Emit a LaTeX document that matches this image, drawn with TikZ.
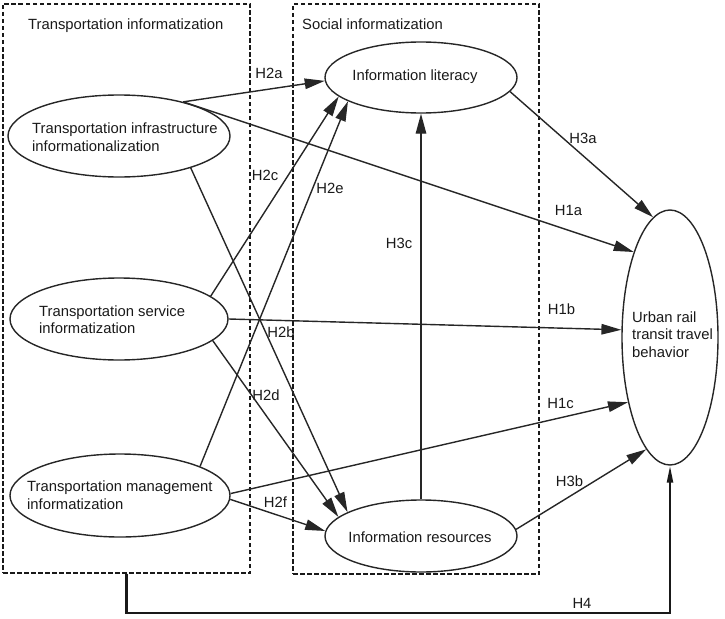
\documentclass[tikz,border=0pt]{standalone}
\usepackage{fontspec}
\setmainfont{Liberation Sans}
\usetikzlibrary{shapes.geometric,arrows.meta}
\tikzset{
  ell/.style={ellipse, draw=black!85, line width=1.4pt, inner sep=0pt},
  txt/.style={inner sep=0pt, font=\fontsize{14.8}{17.5}\selectfont, align=left, text=black!90},
  hyp/.style={inner sep=0pt, font=\fontsize{14.8}{17.5}\selectfont, text=black!90},
  arr/.style={-{Triangle[length=20pt,width=10.5pt]}, line width=1.4pt, draw=black!85},
  h4arr/.style={-{Triangle[length=17pt,width=6pt]}, line width=2.2pt, draw=black!90},
  dashbox/.style={draw=black!90, dash pattern=on 4.5pt off 2.5pt, line width=1.2pt, inner sep=0pt},
}
\begin{document}
\begin{tikzpicture}[x=1pt,y=-1pt]
\useasboundingbox (0,0) rectangle (725,618);
% group boxes
\node[dashbox, minimum width=247pt, minimum height=569pt] (lbox) at (126.5,288.5) {};
\node[dashbox, minimum width=246pt, minimum height=570pt] (rbox) at (416,289) {};
\node[txt, anchor=base west] (ltitle) at (28,29.5) {Transportation informatization};
\node[txt, anchor=base west] (rtitle) at (302,29.5) {Social informatization};
% ellipses
\node[ell, minimum width=222pt, minimum height=82pt] (infra) at (119,136) {};
\node[ell, minimum width=218pt, minimum height=82pt] (serv) at (119,319) {};
\node[ell, minimum width=220pt, minimum height=83pt] (mgmt) at (120,495.5) {};
\node[ell, minimum width=192pt, minimum height=71pt] (lit) at (421,77.5) {};
\node[ell, minimum width=192pt, minimum height=72pt] (res) at (421,536) {};
\node[ell, minimum width=96pt, minimum height=255pt] (urban) at (670,337.5) {};
% ellipse texts
\node[txt, anchor=west] (infraT) at (32,137) {Transportation infrastructure\\informationalization};
\node[txt, anchor=west] (servT) at (39,319.5) {Transportation service\\informatization};
\node[txt, anchor=west] (mgmtT) at (27,495) {Transportation management\\informatization};
\node[txt] (litT) at (415,76.5) {Information literacy};
\node[txt] (resT) at (420,537) {Information resources};
\node[txt, anchor=west] (urbanT) at (632,334.5) {Urban rail\\transit travel\\behavior};
% connectors
\draw[arr] (infra.28) -- (lit.182.7);
\draw[arr] (infra.28) -- (urban.113.6);
\draw[arr] (lit.-9.6) -- (urban.98.6);
\draw[arr] (res.north) -- (lit.south);
\draw[arr] (serv.east) -- (urban.171.4);
\draw[arr] (mgmt.1.9) -- (urban.237.3);
\draw[arr] (infra.-24) -- (res.162.7);
\draw[arr] (serv.-13.75) -- (res.167.5);
\draw[arr] (serv.14.3) -- (lit.193.7);
\draw[arr] (mgmt.20.9) -- (lit.198.6);
\draw[arr] (mgmt.-2.4) -- (res.177);
\draw[arr] (res.4.9) -- (urban.258);
\coordinate (h4y) at (0,613);
\draw[h4arr] (lbox.south) -- (lbox.south |- h4y) -| (urban.south);
% hypothesis labels
\node[hyp] (h2a) at (269,73) {H2a};
\node[hyp] (h2c) at (265,175) {H2c};
\node[hyp] (h2e) at (330,188) {H2e};
\node[hyp] (h2b) at (281,332) {H2b};
\node[hyp] (h2d) at (266,395) {H2d};
\node[hyp] (h2f) at (275.5,502) {H2f};
\node[hyp] (h3a) at (583,138) {H3a};
\node[hyp] (h1a) at (568.5,210) {H1a};
\node[hyp] (h3c) at (399,243) {H3c};
\node[hyp] (h1b) at (561.5,309) {H1b};
\node[hyp] (h1c) at (560.5,403) {H1c};
\node[hyp] (h3b) at (569.5,481) {H3b};
\node[hyp] (h4) at (582,603) {H4};
\end{tikzpicture}
\end{document}
